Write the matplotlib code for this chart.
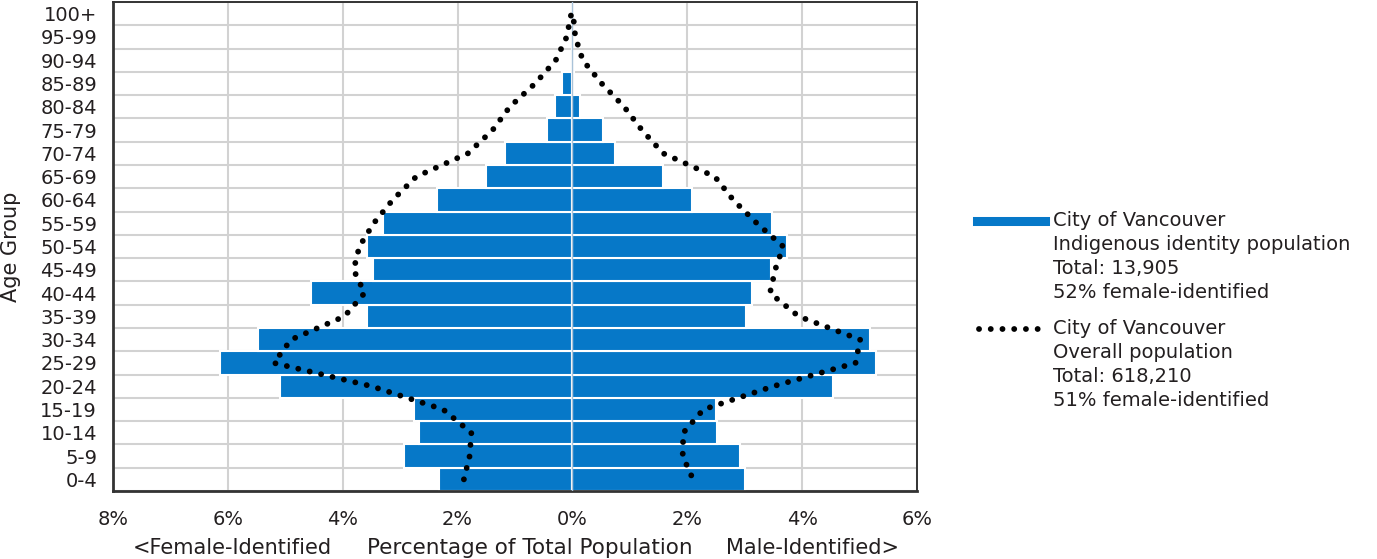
import numpy as np
import matplotlib.pyplot as plt
from matplotlib.lines import Line2D
from matplotlib.ticker import FuncFormatter

plt.rcParams['font.family'] = ['DejaVu Sans']

# Age groups (bottom to top)
age_groups = ["0-4", "5-9", "10-14", "15-19", "20-24", "25-29", "30-34", "35-39",
              "40-44", "45-49", "50-54", "55-59", "60-64", "65-69", "70-74",
              "75-79", "80-84", "85-89", "90-94", "95-99", "100+"]

# Indigenous identity population (% of total)
indig_female = [2.32, 2.94, 2.67, 2.75, 5.09, 6.13, 5.48, 3.57, 4.55, 3.48, 3.58,
                3.29, 2.36, 1.50, 1.17, 0.44, 0.31, 0.19, 0.0, 0.0, 0.0]
indig_male = [3.00, 2.91, 2.52, 2.50, 4.54, 5.29, 5.18, 3.02, 3.13, 3.45, 3.73,
              3.48, 2.08, 1.58, 0.75, 0.53, 0.14, 0.02, 0.0, 0.0, 0.0]

# Overall population (% of total)
all_female = [1.89, 1.79, 1.76, 2.25, 3.50, 5.20, 4.90, 3.97, 3.62, 3.81, 3.71,
              3.46, 3.13, 2.72, 1.82, 1.39, 1.09, 0.65, 0.29, 0.10, 0.02]
all_male = [2.10, 1.92, 1.93, 2.28, 3.50, 4.93, 5.01, 3.94, 3.44, 3.53, 3.67,
            3.21, 2.80, 2.48, 1.58, 1.21, 0.90, 0.51, 0.18, 0.05, 0.01]

x_ticks = [-8, -6, -4, -2, 0, 2, 4, 6]

legend_lines_1 = ["City of Vancouver", "Indigenous identity population",
                  "Total: 13,905", "52% female-identified"]
legend_lines_2 = ["City of Vancouver", "Overall population",
                  "Total: 618,210", "51% female-identified"]

blue = '#0678c8'
txt = '#231f20'
grid_c = '#d2d2d2'
dots = (0, (0.01, 2.0))
dot_lw = 4.2

W, H = 1377, 559
fig = plt.figure(figsize=(W / 100, H / 100), dpi=100)
ax = fig.add_axes([113 / W, 1 - 491 / H, (917 - 113) / W, (491 - 2) / H])

pos = np.arange(len(age_groups))
ax.barh(pos, -np.array(indig_female), height=1.0, color=blue,
        edgecolor='white', linewidth=1.5, zorder=2)
ax.barh(pos, indig_male, height=1.0, color=blue,
        edgecolor='white', linewidth=1.5, zorder=2)
ax.axvline(0, color='#a9c2d8', lw=1, zorder=3)

# overall population outline as one continuous dotted line
line_x = np.concatenate([-np.array(all_female), np.array(all_male)[::-1]])
line_y = np.concatenate([pos, pos[::-1]])
ax.plot(line_x, line_y, color='black', lw=dot_lw, linestyle=dots,
        dash_capstyle='round', zorder=4)

ax.set_xlim(-8, 6)
ax.set_ylim(-0.5, len(age_groups) - 0.5)
ax.set_xticks(x_ticks)
ax.xaxis.set_major_formatter(FuncFormatter(lambda v, p: f"{abs(v):.0f}%"))
ax.set_yticks(pos)
ax.set_yticklabels(age_groups)
ax.set_yticks(np.arange(-0.5, len(age_groups), 1), minor=True)
ax.tick_params(axis='both', which='both', length=0, labelsize=14, colors=txt)
ax.tick_params(axis='y', pad=11.5)
ax.tick_params(axis='x', pad=14)
ax.grid(which='minor', axis='y', color=grid_c, lw=1.5, zorder=0)
ax.grid(which='major', axis='x', color=grid_c, lw=1.5, zorder=0)
ax.set_axisbelow(True)
for s in ax.spines.values():
    s.set_color('#333333')
    s.set_linewidth(1.4)
ax.spines['left'].set_linewidth(2)
ax.spines['bottom'].set_linewidth(2)

ax.set_ylabel("Age Group", fontsize=15, color=txt)
ax.yaxis.set_label_coords(-0.1144, 0.5)

fig.text(232 / W, 1 - 548 / H, "<Female-Identified", ha='center', va='center',
         fontsize=15, color=txt)
fig.text(530 / W, 1 - 548 / H, "Percentage of Total Population", ha='center',
         va='center', fontsize=15.5, color=txt)
fig.text(812 / W, 1 - 548 / H, "Male-Identified>", ha='center', va='center',
         fontsize=15, color=txt)

# legend drawn by hand so the swatch sits on the first text line
fig.add_artist(Line2D([977 / W, 1045 / W], [1 - 221 / H, 1 - 221 / H],
                      transform=fig.transFigure, color=blue, lw=6.5))
fig.add_artist(Line2D([979 / W, 1043 / W], [1 - 329 / H, 1 - 329 / H],
                      transform=fig.transFigure, color='black', lw=dot_lw,
                      linestyle=dots, dash_capstyle='round'))
for i, t in enumerate(legend_lines_1):
    fig.text(1053 / W, 1 - (221 + 24 * i) / H, t, va='center', ha='left',
             fontsize=14, color=txt)
for i, t in enumerate(legend_lines_2):
    fig.text(1053 / W, 1 - (329 + 24 * i) / H, t, va='center', ha='left',
             fontsize=14, color=txt)

fig.savefig("out.png", dpi=100)
